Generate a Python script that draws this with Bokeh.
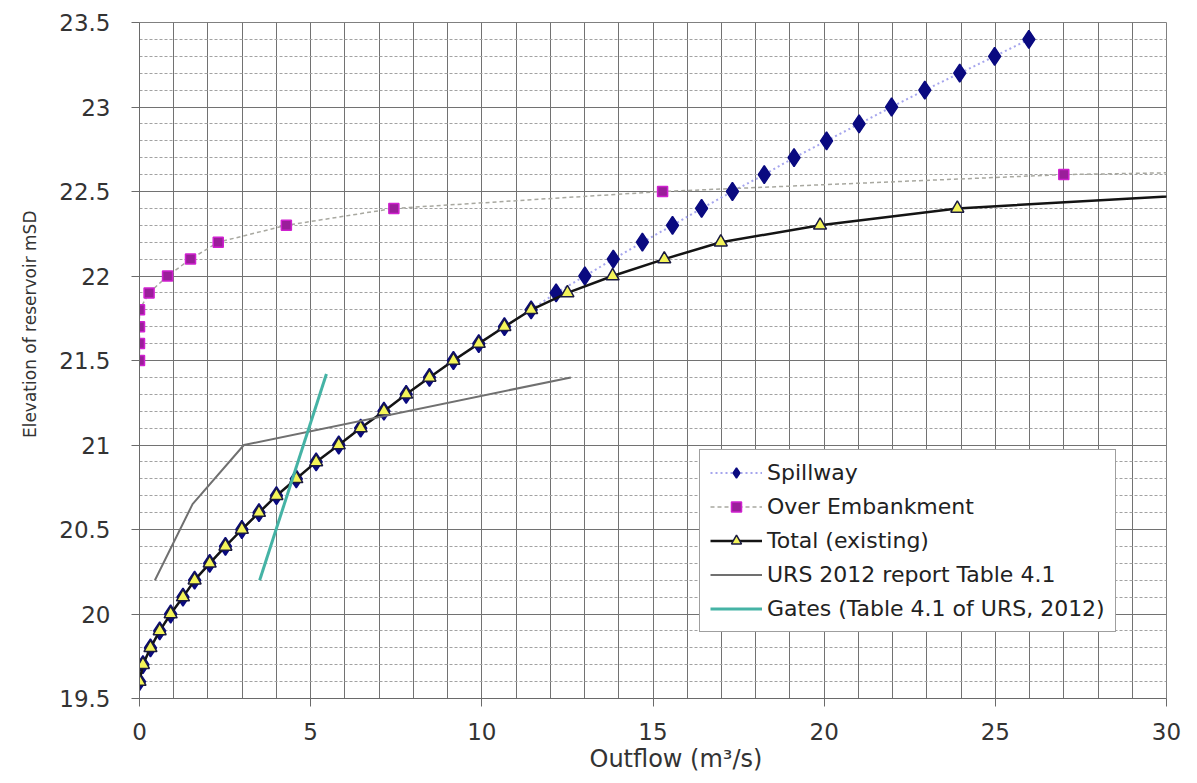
from bokeh.plotting import figure
from bokeh.models import (SingleIntervalTicker, FixedTicker, Legend, LegendItem,
                          CustomJSTickFormatter, Range1d, Title)
from bokeh.embed import file_html
from bokeh.resources import INLINE

# ---------------- data ----------------
spill_elev = [19.6, 19.7, 19.8, 19.9, 20.0, 20.1, 20.2, 20.3, 20.4, 20.5, 20.6, 20.7,
              20.8, 20.9, 21.0, 21.1, 21.2, 21.3, 21.4, 21.5, 21.6, 21.7, 21.8, 21.9,
              22.0, 22.1, 22.2, 22.3, 22.4, 22.5, 22.6, 22.7, 22.8, 22.9, 23.0, 23.1,
              23.2, 23.3, 23.4]
spill_flow = [0.0, 0.1, 0.32, 0.59, 0.91, 1.27, 1.61, 2.05, 2.51, 2.99, 3.49, 4.0,
              4.58, 5.16, 5.82, 6.46, 7.14, 7.79, 8.47, 9.17, 9.91, 10.66, 11.44, 12.17,
              13.01, 13.84, 14.69, 15.57, 16.42, 17.32, 18.25, 19.12, 20.07, 21.02, 21.97, 22.94,
              23.96, 24.98, 25.98]

emb_elev = [21.5, 21.6, 21.7, 21.8, 21.9, 22.0, 22.1, 22.2, 22.3, 22.4, 22.5, 22.6, 22.7]
emb_flow = [0.0, 0.0, 0.0, 0.0, 0.28, 0.82, 1.49, 2.30, 4.29, 7.43, 15.28, 27.0, 55.0]

total_elev = [19.6, 19.7, 19.8, 19.9, 20.0, 20.1, 20.2, 20.3, 20.4, 20.5, 20.6, 20.7,
              20.8, 20.9, 21.0, 21.1, 21.2, 21.3, 21.4, 21.5, 21.6, 21.7, 21.8, 21.9,
              22.0, 22.1, 22.2, 22.3, 22.4, 22.5]
total_flow = [0.0, 0.1, 0.32, 0.59, 0.91, 1.27, 1.61, 2.05, 2.51, 2.99, 3.49, 4.0,
              4.58, 5.16, 5.82, 6.46, 7.14, 7.79, 8.47, 9.17, 9.91, 10.66, 11.44, 12.5,
              13.82, 15.33, 16.98, 19.88, 23.89, 32.6]

urs_flow = [0.45, 1.55, 3.05, 12.6]
urs_elev = [20.2, 20.65, 21.0, 21.4]

gates_flow = [3.51, 5.46]
gates_elev = [20.2, 21.42]

x_ticks = [0, 5, 10, 15, 20, 25, 30]
y_ticks = [19.5, 20, 20.5, 21, 21.5, 22, 22.5, 23, 23.5]

x_title = "Outflow (m\u00b3/s)"
y_title = "Elevation of reservoir mSD"

FONT = "DejaVu Sans"

p = figure(width=1188, height=776,
           x_range=Range1d(0, 30), y_range=Range1d(19.5, 23.5),
           output_backend="svg", toolbar_location=None,
           min_border_left=138, min_border_right=22,
           min_border_top=22, min_border_bottom=78,
           background_fill_color="white", border_fill_color="white")

p.outline_line_color = "#808080"
p.outline_line_width = 1

# grid
p.xgrid.ticker = SingleIntervalTicker(interval=1)
p.xgrid.grid_line_color = "#727272"
p.xgrid.grid_line_width = 1
p.ygrid.ticker = SingleIntervalTicker(interval=0.5, num_minor_ticks=5)
p.ygrid.grid_line_color = "#727272"
p.ygrid.grid_line_width = 1
p.ygrid.minor_grid_line_color = "#a2a2a2"
p.ygrid.minor_grid_line_dash = "3 2"
p.ygrid.minor_grid_line_width = 1

# axes
p.xaxis.ticker = FixedTicker(ticks=x_ticks)
p.yaxis.ticker = FixedTicker(ticks=y_ticks)
p.yaxis.formatter = CustomJSTickFormatter(code="return String(tick);")
for ax in (p.xaxis[0], p.yaxis[0]):
    ax.axis_line_color = "#6a6a6a"
    ax.axis_line_width = 1
    ax.major_tick_line_color = "#6a6a6a"
    ax.major_tick_out = 8
    ax.major_tick_in = 0
    ax.minor_tick_line_color = None
    ax.major_label_text_font = FONT
    ax.major_label_text_font_size = "23px"
    ax.major_label_text_color = "#333333"
p.xaxis.major_label_standoff = 16
p.yaxis.major_label_standoff = 21

# axis titles, placed where the reference has them (slightly off-centre)
p.add_layout(Title(text=x_title, align="left", offset=450, standoff=0,
                   text_font=FONT, text_font_size="24px", text_font_style="normal",
                   text_color="#333333"), "below")
p.add_layout(Title(text=y_title, align="right", offset=188, standoff=34,
                   text_font=FONT, text_font_size="17px", text_font_style="normal",
                   text_color="#333333"), "left")

# series
spill_line = p.line(spill_flow, spill_elev, line_color="#8f8fe8", line_width=2,
                    line_dash="2 3", line_alpha=0.8)
emb_line = p.line(emb_flow, emb_elev, line_color="#a8a8a0", line_width=1.5,
                  line_dash="4 3")
spill_pts = p.scatter(spill_flow, spill_elev, marker="diamond", size=18,
                      fill_color="#0a0a80", line_color="#0a0a80", line_width=1.5)
emb_pts = p.scatter(emb_flow, emb_elev, marker="square", size=10,
                    fill_color="#9a1e9a", line_color="#d020d0", line_width=1.5)
total_line = p.line(total_flow, total_elev, line_color="#141414", line_width=2.5)
total_pts = p.scatter(total_flow, total_elev, marker="triangle", size=13,
                      fill_color="#f4f45a", line_color="#1a1a40", line_width=1.5)
urs_line = p.line(urs_flow, urs_elev, line_color="#707070", line_width=2)
gates_line = p.line(gates_flow, gates_elev, line_color="#45b3a5", line_width=3)

legend = Legend(items=[
    LegendItem(label="Spillway", renderers=[spill_line, spill_pts]),
    LegendItem(label="Over Embankment", renderers=[emb_line, emb_pts]),
    LegendItem(label="Total (existing)", renderers=[total_line, total_pts]),
    LegendItem(label="URS 2012 report Table 4.1", renderers=[urs_line]),
    LegendItem(label="Gates (Table 4.1 of URS, 2012)", renderers=[gates_line]),
], location=(560, 66))
legend.border_line_color = "#404040"
legend.border_line_width = 1
legend.background_fill_color = "white"
legend.background_fill_alpha = 1
legend.label_text_font = FONT
legend.label_text_font_size = "22px"
legend.label_text_color = "#222222"
legend.glyph_width = 52
legend.glyph_height = 25
legend.label_height = 25
legend.label_standoff = 5
legend.spacing = 9
legend.padding = 10
legend.margin = 0
p.add_layout(legend)

open("out.html", "w").write(file_html(p, INLINE))
